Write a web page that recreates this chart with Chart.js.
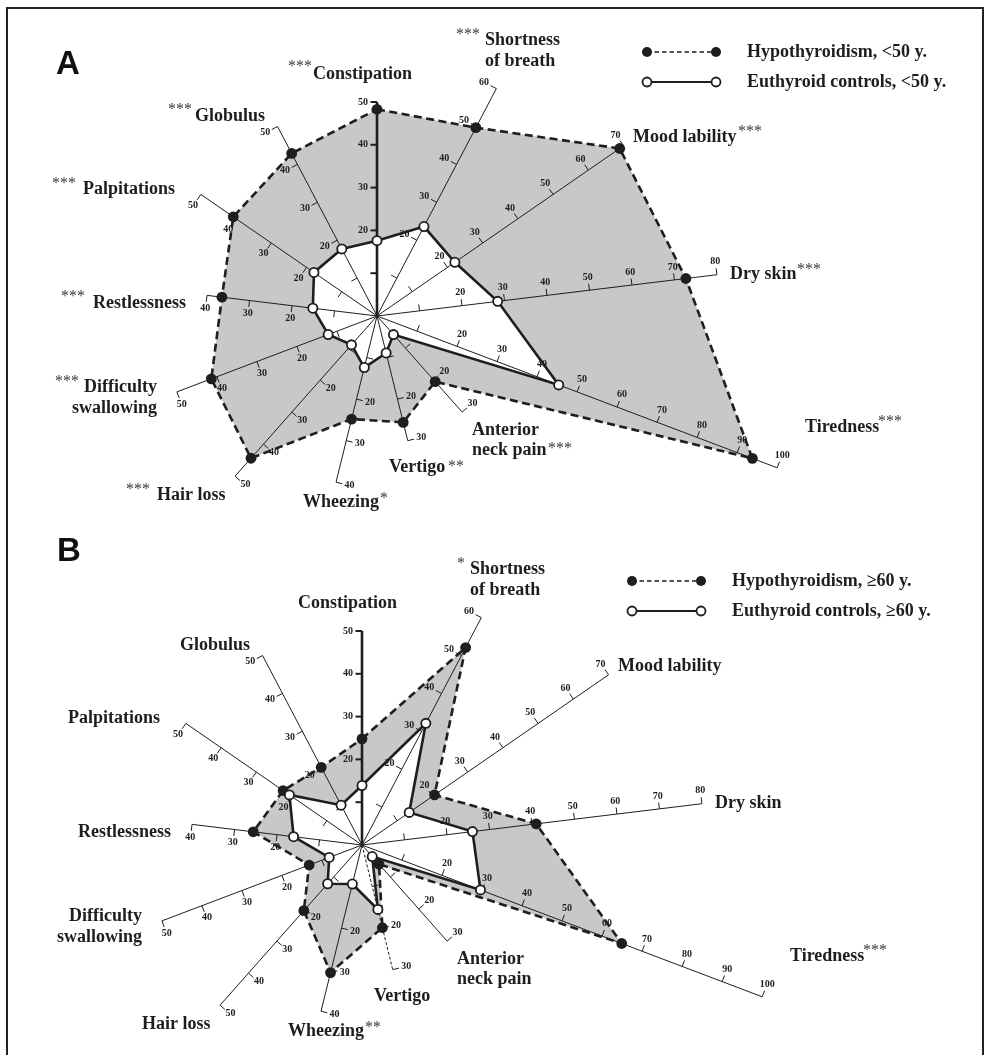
<!DOCTYPE html>
<html>
<head>
<meta charset="utf-8">
<script src="https://cdn.jsdelivr.net/npm/chart.js@4/dist/chart.umd.min.js"></script>
<style>
  html, body { margin: 0; padding: 0; background: #fff; overflow: hidden; }
  #page { position: relative; width: 987px; height: 1055px; }
  #frame { position: absolute; left: 6px; top: 7px; width: 978px; height: 1070px;
           border: 2.5px solid #222; box-sizing: border-box; }
  canvas { position: absolute; left: 0; }
  #chartA { top: 0; }
  #chartB { top: 527px; }
</style>
</head>
<body>
<div id="page">
  <div id="frame"></div>
  <canvas id="chartA" width="987" height="527"></canvas>
  <canvas id="chartB" width="987" height="528"></canvas>
</div>
<script>
// Symptom axes, clockwise from the top
const categories = [
  ['Constipation'], ['Shortness', 'of breath'], ['Mood lability'], ['Dry skin'],
  ['Tiredness'], ['Anterior', 'neck pain'], ['Vertigo'], ['Wheezing'], ['Hair loss'],
  ['Difficulty', 'swallowing'], ['Restlessness'], ['Palpitations'], ['Globulus']
];
// Length of each axis (percent)
const axisMax = [50, 60, 70, 80, 100, 30, 30, 40, 50, 50, 40, 50, 50];
const tickStep = 10;
const firstLabelledTick = 20;

// Prevalence (%) per symptom
const hypoUnder50 = [48.3, 49.7, 68.9, 72.7, 93.8, 20.5, 25.6, 24.8, 44.4, 41.4, 36.5, 40.8, 42.9];
const euthUnder50 = [17.6, 23.6, 22.1, 28.4, 45.4, 5.8, 8.9, 12.4, 9.0, 12.2, 15.1, 17.9, 17.7];
const hypoOver60 = [24.8, 52.1, 20.6, 41.0, 64.9, 6.0, 19.9, 30.7, 20.5, 13.2, 25.6, 22.4, 20.5];
const euthOver60 = [13.9, 32.1, 13.4, 26.0, 29.6, 3.6, 15.5, 9.4, 12.1, 8.2, 16.1, 20.6, 10.5];

// Significance markers
const sigUnder50 = ['***', '***', '***', '***', '***', '***', '**', '*', '***', '***', '***', '***', '***'];
const sigOver60 = ['', '*', '', '', '***', '', '', '**', '', '', '', '', ''];

const seriesLabelsA = ['Hypothyroidism, <50 y.', 'Euthyroid controls, <50 y.'];
const seriesLabelsB = ['Hypothyroidism, \u226560 y.', 'Euthyroid controls, \u226560 y.'];

// ---- styling / layout ----
const INK = '#1e1e1e';
const GRAY = '#c7c8ca';
const PX_PER_UNIT = 4.28;
const R_MAX = 100;
const SERIF = '"Liberation Serif", "Times New Roman", serif';

// Category label anchors relative to the centre: [dx, dy(baseline), align, lineGap]
const labelPos = [
  [-64, -237, 'left', 0], [108, -271, 'left', 21], [256, -174, 'left', 0], [353, -37, 'left', 0],
  [428, 116, 'left', 0], [95, 119, 'left', 20], [12, 156, 'left', 0], [-74, 191, 'left', 0],
  [-220, 184, 'left', 0], [-220, 76, 'right', 21], [-284, -8, 'left', 0], [-294, -122, 'left', 0],
  [-182, -195, 'left', 0]
];
// Asterisk anchors relative to the centre: [x, top, align]
const starPos = [
  [-65, -256, 'right'], [103, -288, 'right'], [361, -191, 'left'], [420, -53, 'left'],
  [501, 99, 'left'], [171, 126, 'left'], [71, 144, 'left'], [3, 176, 'left'],
  [-227, 167, 'right'], [-298, 59, 'right'], [-292, -26, 'right'], [-301, -139, 'right'],
  [-185, -213, 'right']
];

function decorPlugin(opts) {
  return {
    id: 'panelDecor',
    beforeDatasetsDraw(chart) {
      const ctx = chart.ctx;
      const r = chart.scales.r;
      ctx.save();
      ctx.strokeStyle = INK;
      ctx.fillStyle = INK;
      ctx.lineCap = 'butt';
      categories.forEach((c, i) => {
        const end = r.getPointPositionForValue(i, axisMax[i]);
        const a = end.angle;
        const nx = Math.sin(a), ny = -Math.cos(a);
        // spoke
        ctx.beginPath();
        ctx.lineWidth = i === 0 ? 2.6 : 1;
        ctx.setLineDash(opts.dashedAxes.includes(i) ? [3, 2] : []);
        ctx.moveTo(r.xCenter, r.yCenter);
        ctx.lineTo(end.x, end.y);
        ctx.stroke();
        ctx.setLineDash([]);
        // ticks, end hook and tick labels
        ctx.font = 'bold 10px ' + SERIF;
        ctx.textAlign = 'center';
        ctx.textBaseline = 'middle';
        for (let v = tickStep; v <= axisMax[i]; v += tickStep) {
          const p = r.getPointPositionForValue(i, v);
          const len = 6.5;
          ctx.beginPath();
          ctx.lineWidth = i === 0 ? 2 : 1;
          ctx.moveTo(p.x, p.y);
          ctx.lineTo(p.x + nx * len, p.y + ny * len);
          ctx.stroke();
          if (v >= firstLabelledTick) {
            ctx.fillText(String(v), p.x + nx * 14, p.y + ny * 13);
          }
        }
      });
      ctx.restore();
    },
    afterDraw(chart) {
      const ctx = chart.ctx;
      const r = chart.scales.r;
      const cx = r.xCenter, cy = r.yCenter;
      ctx.save();
      ctx.fillStyle = INK;
      ctx.textBaseline = 'alphabetic';
      // category labels
      ctx.font = 'bold 18px ' + SERIF;
      categories.forEach((lines, i) => {
        const [dx, dy, align, gap] = labelPos[i];
        ctx.textAlign = align;
        lines.forEach((t, k) => ctx.fillText(t, cx + dx, cy + dy + k * gap));
      });
      // asterisks
      ctx.font = '16px ' + SERIF;
      ctx.fillStyle = '#3a3a3a';
      opts.sig.forEach((s, i) => {
        if (!s) return;
        const [sx, top, align] = starPos[i];
        ctx.textAlign = align;
        ctx.fillText(s, cx + sx, cy + top + 11);
      });
      // legend
      ctx.fillStyle = INK;
      const ds = chart.data.datasets;
      const rows = [ds[1], ds[0]];
      rows.forEach((d, k) => {
        const y = cy - 264 + k * 30;
        const x1 = cx + 270, x2 = cx + 339;
        ctx.beginPath();
        ctx.strokeStyle = INK;
        ctx.lineWidth = d.borderDash ? 1.4 : 2;
        ctx.setLineDash(d.borderDash ? [4.5, 3] : []);
        ctx.moveTo(x1, y);
        ctx.lineTo(x2, y);
        ctx.stroke();
        ctx.setLineDash([]);
        [x1, x2].forEach(x => {
          ctx.beginPath();
          ctx.arc(x, y, d.borderDash ? 5 : 4.5, 0, Math.PI * 2);
          ctx.fillStyle = d.pointBackgroundColor;
          ctx.fill();
          if (!d.borderDash) {
            ctx.lineWidth = 1.8;
            ctx.stroke();
          }
        });
        ctx.fillStyle = INK;
        ctx.font = 'bold 18px ' + SERIF;
        ctx.textAlign = 'left';
        ctx.fillText(d.label, cx + 370, y + 5);
      });
      // panel letter
      ctx.font = 'bold 33px "Liberation Sans", Arial, sans-serif';
      ctx.textAlign = 'left';
      ctx.fillStyle = '#111';
      ctx.fillText(opts.letter, opts.letterX, opts.letterY);
      ctx.restore();
    }
  };
}

function makePanel(canvasId, center, hypo, euth, names, opts) {
  return new Chart(document.getElementById(canvasId), {
    type: 'radar',
    data: {
      labels: categories,
      datasets: [
        {
          label: names[1], data: euth, fill: true, backgroundColor: '#ffffff',
          borderColor: INK, borderWidth: 2.6, clip: false,
          pointRadius: 4.6, pointBorderWidth: 1.8,
          pointBackgroundColor: '#ffffff', pointBorderColor: INK
        },
        {
          label: names[0], data: hypo, fill: true, backgroundColor: GRAY,
          borderColor: INK, borderWidth: 2.6, borderDash: [8, 4.5], clip: false,
          pointRadius: 5.4, pointBorderWidth: 0,
          pointBackgroundColor: INK, pointBorderColor: INK
        }
      ]
    },
    options: {
      responsive: false,
      animation: false,
      devicePixelRatio: 1,
      events: [],
      layout: { padding: 0 },
      elements: { line: { tension: 0 } },
      plugins: {
        legend: { display: false },
        tooltip: { enabled: false },
        filler: { drawTime: 'beforeDatasetsDraw' }
      },
      scales: {
        r: {
          min: 0, max: R_MAX, startAngle: 0,
          ticks: { display: false, stepSize: tickStep },
          grid: { display: false },
          angleLines: { display: false },
          pointLabels: { display: false },
          afterFit(scale) {
            scale.xCenter = center.x;
            scale.yCenter = center.y;
            scale.drawingArea = R_MAX * PX_PER_UNIT;
          }
        }
      }
    },
    plugins: [decorPlugin(opts)]
  });
}

makePanel('chartA', { x: 377, y: 316 }, hypoUnder50, euthUnder50, seriesLabelsA,
  { sig: sigUnder50, letter: 'A', letterX: 56, letterY: 74, dashedAxes: [] });
makePanel('chartB', { x: 362, y: 318 }, hypoOver60, euthOver60, seriesLabelsB,
  { sig: sigOver60, letter: 'B', letterX: 57, letterY: 34, dashedAxes: [6] });
</script>
</body>
</html>
